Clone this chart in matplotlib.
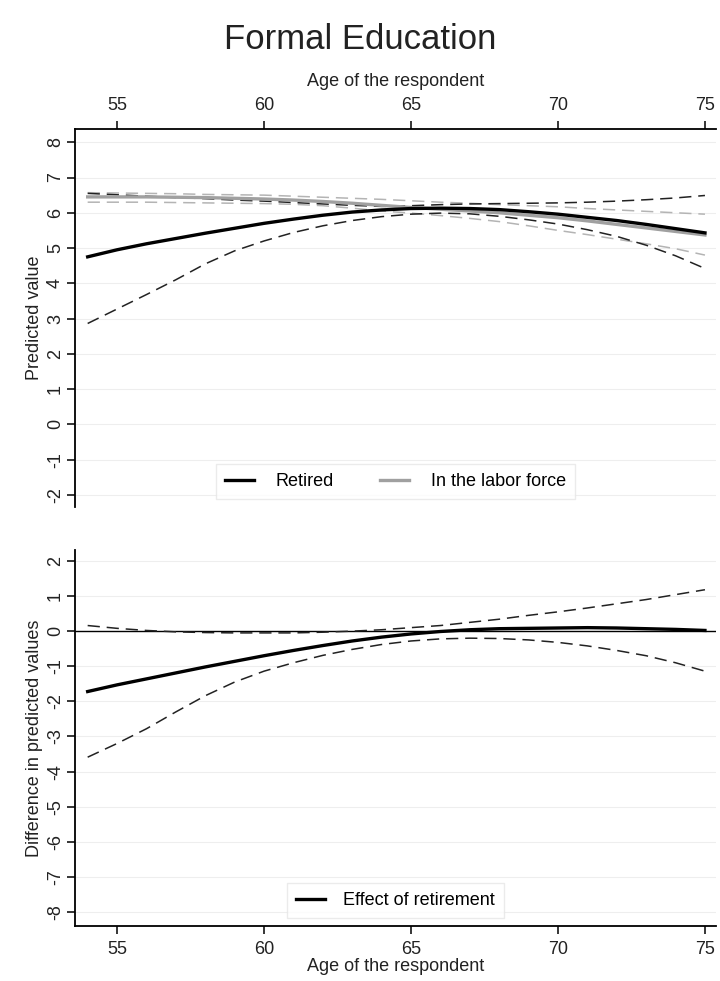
import matplotlib
matplotlib.use("Agg")
import matplotlib.pyplot as plt

plt.rcParams['font.family'] = ['Liberation Sans', 'DejaVu Sans']

age = list(range(54, 76))

# predicted values, retired
retired = [4.75, 4.95, 5.12, 5.27, 5.42, 5.56, 5.70, 5.82, 5.93, 6.02, 6.08,
           6.12, 6.13, 6.12, 6.09, 6.03, 5.96, 5.87, 5.78, 5.67, 5.55, 5.43]
retired_lo = [2.86, 3.27, 3.68, 4.10, 4.55, 4.92, 5.20, 5.44, 5.63, 5.78, 5.89,
              5.96, 5.99, 5.97, 5.90, 5.80, 5.68, 5.52, 5.33, 5.08, 4.78, 4.42]
retired_hi = [6.55, 6.51, 6.47, 6.43, 6.40, 6.36, 6.33, 6.29, 6.25, 6.21, 6.18,
              6.20, 6.23, 6.25, 6.26, 6.27, 6.28, 6.30, 6.33, 6.37, 6.42, 6.49]

# predicted values, in the labor force
labor = [6.45, 6.45, 6.45, 6.44, 6.43, 6.41, 6.39, 6.36, 6.32, 6.27, 6.21,
         6.15, 6.10, 6.05, 6.00, 5.93, 5.86, 5.77, 5.67, 5.57, 5.47, 5.37]
labor_lo = [6.30, 6.30, 6.30, 6.29, 6.28, 6.27, 6.26, 6.24, 6.20, 6.13, 6.05,
            5.99, 5.92, 5.84, 5.75, 5.63, 5.50, 5.38, 5.25, 5.12, 4.98, 4.80]
labor_hi = [6.57, 6.56, 6.55, 6.54, 6.52, 6.51, 6.50, 6.47, 6.44, 6.41, 6.38,
            6.34, 6.30, 6.27, 6.23, 6.20, 6.17, 6.12, 6.08, 6.04, 6.00, 5.96]

# difference retired - labor force
effect = [-1.72, -1.53, -1.36, -1.19, -1.02, -0.86, -0.70, -0.55, -0.41, -0.28, -0.17,
          -0.08, -0.01, 0.04, 0.07, 0.08, 0.09, 0.10, 0.09, 0.07, 0.05, 0.02]
effect_lo = [-3.59, -3.20, -2.78, -2.30, -1.84, -1.45, -1.14, -0.90, -0.69, -0.52, -0.38,
             -0.28, -0.22, -0.20, -0.21, -0.25, -0.32, -0.42, -0.55, -0.70, -0.90, -1.14]
effect_hi = [0.16, 0.08, 0.02, -0.02, -0.04, -0.05, -0.05, -0.05, -0.03, 0.00, 0.04,
             0.10, 0.16, 0.25, 0.34, 0.45, 0.55, 0.66, 0.78, 0.90, 1.04, 1.18]

xticks = [55, 60, 65, 70, 75]
yticks_top = list(range(-2, 9))
yticks_bot = list(range(-8, 3))

TXT = '#222222'
GRAY = '#a0a0a0'
LGRAY = '#b4b4b4'
DASH = (8, 4.5)

fig = plt.figure(figsize=(7.2, 9.81), dpi=100)
fig.text(0.5, 0.960, 'Formal Education', ha='center', va='center', fontsize=25, color=TXT)

ax1 = fig.add_axes([0.1042, 0.483, 0.890, 0.3853])
ax2 = fig.add_axes([0.1042, 0.056, 0.890, 0.3833])


def style(ax, yticks, top):
    ax.set_xlim(53.57, 75.37)
    ax.set_xticks(xticks)
    ax.set_yticks(yticks)
    ax.set_yticklabels([str(t) for t in yticks], rotation=90, va='center')
    for t in yticks:
        ax.axhline(t, color='#eeeeee', lw=0.8, zorder=0)
    ax.spines['right'].set_visible(False)
    if top:
        ax.spines['bottom'].set_visible(False)
        ax.xaxis.tick_top()
        ax.xaxis.set_label_position('top')
    else:
        ax.spines['top'].set_visible(False)
    for s in ax.spines.values():
        s.set_linewidth(1.3)
    ax.tick_params(axis='both', length=6, width=1.1, labelsize=13, colors='black',
                   labelcolor=TXT)
    ax.tick_params(axis='x', pad=5)
    ax.tick_params(axis='y', pad=2)
    ax.set_xlabel('Age of the respondent', fontsize=13, color=TXT,
                  labelpad=8 if top else 0)


# top panel: predicted values
ax1.plot(age, labor_hi, color=LGRAY, lw=1.1, dashes=DASH)
ax1.plot(age, labor_lo, color=LGRAY, lw=1.1, dashes=DASH)
ax1.plot(age, retired_hi, color=TXT, lw=1.1, dashes=DASH)
ax1.plot(age, retired_lo, color=TXT, lw=1.1, dashes=DASH)
ax1.plot(age, labor, color=GRAY, lw=2.4, label='In the labor force')
ax1.plot(age, retired, color='black', lw=2.4, label='Retired')
ax1.set_ylim(-2.35, 8.37)
style(ax1, yticks_top, True)
ax1.set_ylabel('Predicted value', fontsize=13, color=TXT, labelpad=3)
h, l = ax1.get_legend_handles_labels()
leg = ax1.legend(h[::-1], l[::-1], loc='center', bbox_to_anchor=(0.5, 0.067), ncol=2,
                 fontsize=13, frameon=True, fancybox=False, edgecolor='#e6e6e6',
                 handlelength=1.6, columnspacing=2.6, handletextpad=1.2,
                 borderpad=0.5)
leg.get_frame().set_linewidth(1.0)

# bottom panel: effect of retirement
ax2.axhline(0, color='black', lw=1.0, zorder=1)
ax2.plot(age, effect_hi, color=TXT, lw=1.1, dashes=DASH)
ax2.plot(age, effect_lo, color=TXT, lw=1.1, dashes=DASH)
ax2.plot(age, effect, color='black', lw=2.4, label='Effect of retirement')
ax2.set_ylim(-8.4, 2.31)
style(ax2, yticks_bot, False)
ax2.set_ylabel('Difference in predicted values', fontsize=13, color=TXT, labelpad=3)
leg2 = ax2.legend(loc='center', bbox_to_anchor=(0.5, 0.068), fontsize=13, frameon=True,
                  fancybox=False, edgecolor='#e6e6e6', handlelength=1.6,
                  handletextpad=1.0, borderpad=0.5)
leg2.get_frame().set_linewidth(1.0)

fig.savefig('out.png', dpi=100)
